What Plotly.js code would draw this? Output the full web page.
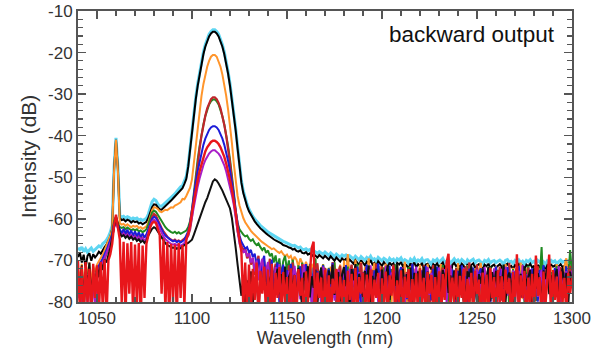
<!DOCTYPE html>
<html>
<head>
<meta charset="utf-8">
<script src="https://cdn.plot.ly/plotly-3.0.1.min.js"></script>
<style>html,body{margin:0;padding:0;background:#fff;}#plot{width:605px;height:356px;}</style>
</head>
<body>
<div id="plot"></div>
<script>
// Wavelength grid: 1040 .. 1300 nm, 1 nm step (261 samples)
const wlStart = 1040, wlEnd = 1300;
const wavelength = [];
for (let w = wlStart; w <= wlEnd; w++) wavelength.push(w);

const xTickVals = [1050, 1100, 1150, 1200, 1250, 1300];
const yTickVals = [-80, -70, -60, -50, -40, -30, -20, -10];
const yTickText = ["-80", "-70", "-60", "-50", "-40", "-30", "-20", "-10"];

const cyanSeries = [
-67.0,-67.4,-66.8,-67.9,-67.2,-68.1,-67.5,-67.0,-67.8,-67.3,
-66.9,-66.5,-66.8,-66.0,-65.6,-65.1,-64.3,-63.2,-61.6,-47.5,
-40.5,-47.5,-59.2,-59.6,-59.4,-59.8,-59.5,-59.7,-60.1,-59.8,
-60.0,-59.8,-60.3,-60.1,-60.4,-60.2,-59.9,-58.9,-57.3,-55.9,
-55.3,-55.6,-56.4,-56.9,-57.0,-56.6,-56.1,-55.8,-55.4,-55.0,
-54.5,-54.0,-53.4,-52.8,-52.3,-52.0,-51.0,-49.8,-47.0,-42.6,
-38.3,-34.3,-30.7,-27.5,-24.6,-22.1,-19.9,-18.1,-16.7,-15.6,
-14.9,-14.5,-14.5,-14.9,-15.6,-16.7,-18.1,-19.9,-22.1,-24.6,
-27.5,-30.7,-34.3,-38.3,-42.6,-47.3,-50.8,-53.3,-55.1,-56.5,
-57.7,-58.6,-59.4,-60.0,-60.6,-61.2,-61.6,-62.0,-62.5,-62.8,
-63.2,-63.5,-63.8,-64.1,-64.4,-64.6,-64.9,-65.1,-65.4,-65.6,
-65.8,-66.0,-66.2,-66.5,-66.4,-66.8,-67.0,-66.8,-67.3,-67.4,
-67.2,-67.6,-67.4,-68.0,-67.6,-68.0,-68.3,-67.9,-68.2,-68.5,
-68.0,-68.4,-68.8,-68.2,-68.6,-69.1,-68.5,-68.8,-69.2,-68.7,
-69.0,-68.7,-69.4,-68.9,-69.2,-69.7,-69.0,-69.4,-69.9,-69.1,
-69.5,-70.0,-69.3,-69.7,-69.0,-69.9,-69.6,-70.2,-69.3,-69.8,
-70.1,-69.5,-69.8,-70.4,-69.5,-70.0,-69.7,-70.5,-69.6,-69.9,
-69.4,-70.3,-69.8,-70.1,-70.7,-69.7,-70.2,-69.5,-70.4,-69.9,
-70.2,-69.6,-70.6,-69.9,-69.8,-70.3,-70.9,-69.9,-70.2,-69.7,
-70.4,-70.0,-69.5,-70.5,-70.1,-69.8,-70.7,-70.0,-69.6,-70.3,
-69.9,-70.5,-69.8,-70.2,-70.9,-69.9,-70.4,-70.0,-69.7,-70.6,
-70.1,-69.9,-70.4,-70.8,-70.0,-70.3,-69.8,-70.6,-70.2,-70.0,
-70.5,-70.1,-69.9,-70.3,-71.0,-70.0,-69.8,-70.4,-70.2,-70.7,
-70.0,-70.4,-69.9,-70.6,-70.2,-70.9,-70.0,-70.3,-69.8,-70.5,
-70.2,-70.8,-70.0,-70.4,-69.9,-70.3,-71.0,-70.1,-70.5,-70.0,
-70.4,-70.1,-70.8,-70.3,-69.9,-70.4,-70.2,-70.7,-70.1,-70.4,
-70.3];

const blackSeries = [
-69.2,-68.1,-70.5,-68.6,-71.8,-68.9,-68.3,-70.1,-68.5,-69.3,
-68.7,-67.9,-68.4,-67.4,-66.8,-66.2,-65.4,-64.3,-62.3,-48.0,
-41.0,-48.0,-59.8,-60.3,-60.1,-60.6,-60.2,-60.4,-60.9,-60.5,
-60.8,-60.6,-61.1,-60.9,-61.3,-61.0,-60.7,-59.8,-58.5,-57.2,
-56.5,-56.6,-57.2,-57.7,-57.8,-57.4,-56.9,-56.5,-56.1,-55.6,
-55.1,-54.6,-54.0,-53.4,-52.9,-52.6,-51.6,-50.4,-47.5,-43.1,
-38.8,-34.8,-31.2,-28.0,-25.1,-22.6,-20.4,-18.6,-17.2,-16.1,
-15.4,-15.0,-15.0,-15.4,-16.1,-17.2,-18.6,-20.4,-22.6,-25.1,
-28.0,-31.2,-34.8,-38.8,-43.1,-47.8,-51.3,-53.8,-55.6,-57.0,
-58.2,-59.1,-59.9,-60.6,-61.2,-61.8,-62.3,-62.7,-63.2,-63.5,
-63.9,-64.3,-64.5,-64.9,-65.2,-65.4,-65.8,-65.9,-66.3,-66.4,
-66.6,-66.9,-67.0,-67.4,-67.2,-67.7,-67.9,-67.6,-68.2,-68.3,
-68.0,-68.6,-68.3,-69.0,-68.5,-68.9,-69.3,-68.7,-69.1,-69.5,
-68.9,-69.4,-69.8,-69.0,-69.6,-70.1,-69.3,-69.8,-70.3,-69.5,
-70.0,-69.6,-70.5,-69.8,-70.2,-70.8,-69.9,-70.4,-71.1,-70.0,
-70.5,-71.2,-70.3,-70.8,-69.9,-71.0,-70.6,-71.4,-70.2,-70.9,
-71.3,-70.4,-70.9,-71.6,-70.5,-71.1,-70.7,-71.8,-70.6,-71.0,
-70.4,-71.5,-70.8,-71.2,-72.0,-70.7,-71.3,-70.5,-71.6,-70.9,
-71.4,-70.6,-71.9,-71.0,-70.8,-71.5,-72.2,-70.9,-71.3,-70.7,
-71.6,-71.0,-70.5,-71.8,-71.2,-70.8,-74.5,-71.1,-70.6,-71.4,
-71.0,-71.7,-70.8,-71.3,-72.3,-70.9,-71.5,-71.1,-70.7,-71.8,
-71.2,-70.9,-71.6,-72.1,-71.0,-71.4,-70.8,-71.9,-71.3,-71.0,
-71.7,-71.2,-70.9,-71.5,-75.0,-71.1,-70.8,-71.6,-71.3,-72.0,
-71.1,-71.5,-70.9,-71.8,-71.3,-72.2,-71.0,-71.4,-70.8,-71.7,
-71.3,-74.2,-71.1,-71.6,-70.9,-71.4,-72.3,-71.2,-71.7,-71.0,
-71.5,-71.2,-72.1,-71.4,-70.9,-71.6,-71.3,-72.0,-71.2,-71.6,
-71.4];

const orangeSeries = [
-72.5,-74.0,-70.8,-76.5,-71.9,-73.2,-70.5,-75.8,-71.4,-72.8,
-71.0,-70.2,-69.5,-68.6,-67.5,-66.4,-65.3,-64.0,-62.6,-48.5,
-41.0,-48.5,-61.0,-61.4,-61.2,-61.7,-61.3,-61.6,-62.0,-61.7,
-61.9,-61.7,-62.2,-62.0,-62.4,-62.1,-61.8,-60.8,-59.2,-57.9,
-57.2,-57.3,-57.6,-58.2,-58.4,-58.2,-57.8,-57.9,-57.5,-57.2,
-57.3,-56.8,-56.6,-56.2,-56.0,-55.2,-55.3,-54.5,-53.5,-52.5,
-50.5,-46.4,-41.7,-37.5,-33.7,-30.4,-27.6,-25.3,-23.4,-22.0,
-21.0,-20.6,-20.6,-21.0,-22.0,-23.4,-25.3,-27.6,-30.4,-33.7,
-37.5,-41.7,-46.7,-51.3,-54.5,-56.8,-58.5,-59.8,-60.8,-61.6,
-62.3,-62.9,-63.4,-63.9,-64.4,-64.8,-65.2,-65.6,-66.0,-66.3,
-66.6,-66.9,-67.3,-67.1,-67.6,-67.9,-68.2,-67.8,-68.5,-69.0,
-68.6,-69.4,-68.9,-70.2,-69.1,-69.8,-71.5,-69.5,-70.6,-72.0,
-70.3,-71.8,-74.5,-70.8,-73.0,-76.0,-71.2,-78.5,-72.4,-70.9,
-75.0,-72.0,-80.5,-71.5,-74.2,-70.6,-77.8,-73.1,-71.0,-82.0,
-70.0,-74.5,-68.5,-73.8,-71.2,-79.0,-69.8,-75.5,-72.2,-70.4,
-76.8,-71.6,-73.9,-69.5,-82.0,-72.8,-70.6,-77.5,-74.0,-71.3,
-79.5,-72.5,-70.8,-75.2,-73.3,-81.0,-71.7,-74.6,-70.9,-77.0,
-72.8,-75.9,-70.3,-80.0,-73.5,-71.4,-76.2,-72.0,-78.8,-74.1,
-71.0,-76.5,-73.2,-82.0,-70.8,-74.9,-72.3,-77.6,-71.5,-79.2,
-73.6,-70.9,-76.8,-72.1,-75.0,-81.0,-71.8,-74.3,-72.9,-77.5,
-70.7,-75.6,-73.0,-79.8,-72.4,-71.2,-76.9,-73.7,-82.0,-71.9,
-74.8,-72.5,-70.6,-77.3,-73.9,-80.5,-71.6,-75.4,-72.8,-78.1,
-71.3,-74.0,-76.6,-72.2,-81.0,-70.9,-75.1,-73.4,-77.9,-71.8,
-76.2,-72.7,-74.5,-70.5,-79.3,-73.0,-71.9,-76.4,-82.0,-72.6,
-74.1,-71.0,-77.8,-73.5,-70.8,-75.7,-80.2,-72.3,-74.8,-71.5,
-78.0,-73.1,-70.9,-76.0,-72.6,-81.0,-71.4,-69.5,-74.3,-72.0,
-75.5];

const greenSeries = [
-75.5,-78.0,-73.2,-82.0,-74.6,-76.9,-72.8,-80.5,-74.0,-77.2,
-73.5,-72.0,-71.2,-70.1,-69.0,-67.8,-66.5,-65.2,-63.5,-60.5,
-59.5,-61.0,-62.0,-62.2,-62.0,-62.5,-62.1,-62.4,-62.8,-62.5,
-62.7,-62.5,-63.0,-62.8,-63.2,-62.9,-62.5,-61.3,-59.6,-58.5,
-58.0,-58.3,-59.0,-59.8,-60.6,-61.3,-62.0,-62.5,-62.9,-63.2,
-63.4,-63.1,-63.5,-63.2,-63.6,-63.3,-63.0,-62.8,-62.0,-60.5,
-57.7,-53.3,-49.3,-45.7,-42.5,-39.7,-37.3,-35.3,-33.7,-32.5,
-31.7,-31.3,-31.3,-31.7,-32.5,-33.7,-35.3,-37.3,-39.7,-42.5,
-45.7,-49.3,-53.5,-58.0,-61.0,-62.5,-63.2,-63.8,-64.2,-64.0,
-64.8,-65.3,-64.9,-65.8,-66.3,-65.9,-66.8,-67.5,-66.9,-68.2,
-67.6,-69.0,-68.3,-70.5,-68.8,-72.0,-69.5,-74.0,-70.2,-68.9,
-72.5,-70.0,-76.0,-69.8,-73.5,-79.0,-71.2,-74.8,-70.5,-77.2,
-72.0,-80.5,-70.8,-75.5,-73.0,-69.5,-78.0,-72.5,-76.2,-71.0,
-74.5,-82.0,-71.8,-76.8,-73.6,-70.4,-79.5,-74.1,-72.3,-77.0,
-73.0,-76.4,-71.5,-81.0,-74.7,-72.0,-77.8,-70.8,-75.2,-73.8,
-80.0,-72.6,-75.9,-71.2,-74.4,-78.5,-72.9,-76.3,-70.9,-82.0,
-74.0,-71.7,-77.4,-73.2,-80.8,-72.1,-75.6,-71.0,-78.2,-73.5,
-76.9,-72.4,-81.0,-74.3,-71.6,-77.1,-73.8,-79.6,-72.2,-75.0,
-71.9,-78.4,-74.6,-72.0,-80.3,-73.3,-76.7,-71.4,-82.0,-74.2,
-72.7,-77.5,-71.1,-75.8,-73.0,-79.9,-72.5,-74.9,-81.0,-71.8,
-76.2,-73.4,-78.9,-72.0,-75.3,-71.3,-80.6,-74.1,-72.6,-77.7,
-73.1,-81.0,-71.9,-75.7,-72.8,-78.3,-74.4,-71.5,-79.2,-73.6,
-75.9,-72.3,-80.0,-73.9,-71.2,-77.0,-72.7,-82.0,-74.5,-72.1,
-78.6,-73.7,-71.8,-76.5,-72.9,-80.4,-74.0,-71.3,-77.3,-72.5,
-75.0,-79.8,-72.4,-74.6,-66.8,-78.1,-73.2,-71.9,-76.8,-72.8,
-80.2,-73.5,-71.4,-77.6,-72.0,-75.4,-79.0,-72.7,-74.9,-67.5,
-73.0];

const darkRedSeries = [
-76.0,-79.5,-73.8,-81.0,-75.2,-77.8,-73.5,-82.0,-74.9,-78.0,
-74.5,-73.0,-72.0,-71.0,-69.8,-68.5,-67.2,-65.8,-64.2,-61.5,
-60.0,-61.8,-63.2,-63.5,-63.3,-63.9,-63.4,-63.8,-64.2,-63.9,
-64.1,-63.8,-64.4,-64.2,-64.6,-64.3,-63.9,-62.8,-61.0,-59.5,
-58.8,-59.2,-60.2,-61.3,-62.2,-63.0,-63.8,-64.3,-64.7,-65.0,
-65.3,-65.0,-65.4,-65.2,-65.5,-65.1,-64.8,-64.5,-64.0,-62.5,
-59.5,-55.0,-50.6,-46.6,-43.1,-40.0,-37.4,-35.2,-33.4,-32.1,
-31.2,-30.8,-30.8,-31.2,-32.1,-33.4,-35.2,-37.4,-40.0,-43.1,
-46.6,-50.6,-55.0,-59.5,-63.0,-65.0,-66.5,-67.8,-66.9,-69.5,
-68.2,-71.0,-69.4,-73.5,-70.6,-68.9,-75.0,-71.8,-70.2,-77.5,
-72.4,-69.6,-80.0,-73.1,-70.8,-76.5,-72.0,-82.0,-71.5,-74.8,
-78.3,-71.2,-74.0,-70.5,-81.0,-73.6,-72.2,-77.0,-70.9,-75.8,
-73.0,-79.2,-71.6,-74.7,-82.0,-72.5,-70.7,-76.1,-73.4,-80.3,
-71.8,-75.5,-72.9,-78.8,-70.4,-74.2,-81.0,-73.0,-71.3,-77.4,
-74.6,-72.1,-80.7,-73.8,-71.0,-76.3,-72.7,-79.1,-74.0,-70.6,
-77.9,-73.2,-71.4,-82.0,-74.5,-72.3,-76.8,-70.8,-79.5,-73.6,
-71.5,-76.0,-73.3,-80.1,-72.2,-74.9,-71.0,-78.0,-73.7,-81.0,
-74.3,-71.6,-77.2,-72.8,-79.9,-73.5,-70.9,-75.6,-72.4,-80.6,
-73.0,-77.7,-71.2,-74.8,-72.5,-82.0,-73.9,-71.1,-76.4,-72.7,
-79.4,-73.4,-71.7,-76.9,-74.2,-70.7,-80.8,-72.9,-75.1,-71.9,
-77.8,-72.6,-74.7,-81.0,-71.4,-73.8,-70.5,-79.0,-72.3,-75.7,
-71.0,-78.6,-73.6,-72.1,-80.2,-74.4,-71.8,-76.5,-73.0,-82.0,
-72.9,-75.3,-71.5,-79.7,-73.7,-72.0,-77.5,-70.6,-81.0,-74.0,
-73.1,-71.9,-78.2,-74.6,-72.4,-76.0,-80.9,-71.7,-75.4,-73.3,
-79.1,-72.8,-71.4,-77.0,-73.9,-82.0,-72.1,-75.8,-71.0,-78.4,
-73.5,-76.7,-72.2,-80.5,-71.6,-74.3,-72.9,-78.7,-73.8,-71.3,
-76.0];

const blueSeries = [
-78.0,-74.5,-81.0,-76.2,-73.8,-79.5,-75.0,-77.8,-74.2,-80.0,
-72.0,-71.3,-70.4,-69.5,-68.6,-67.5,-66.3,-65.0,-63.8,-61.0,
-60.5,-61.5,-62.6,-63.5,-62.4,-63.6,-62.6,-63.8,-62.8,-64.0,
-63.0,-64.2,-63.2,-64.4,-63.5,-64.5,-63.8,-62.5,-61.0,-60.0,
-59.5,-59.8,-60.6,-61.6,-62.6,-63.4,-64.0,-64.5,-64.8,-65.1,
-65.4,-65.2,-65.6,-65.3,-65.7,-65.4,-65.0,-64.0,-63.0,-61.0,
-57.5,-54.2,-51.2,-48.5,-46.1,-44.0,-42.2,-40.7,-39.5,-38.6,
-38.0,-37.7,-37.7,-38.0,-38.6,-39.5,-40.7,-42.2,-44.0,-46.1,
-48.5,-51.2,-54.2,-58.0,-61.5,-64.0,-65.5,-66.4,-67.2,-66.8,
-68.0,-67.5,-69.2,-68.4,-71.0,-69.6,-73.5,-70.4,-68.9,-75.8,
-71.2,-74.0,-69.8,-78.5,-72.6,-70.5,-80.5,-73.4,-71.0,-76.7,
-72.3,-79.0,-70.8,-74.6,-72.0,-82.0,-73.7,-71.4,-77.5,-74.2,
-70.9,-76.8,-73.1,-80.2,-71.7,-75.0,-72.6,-78.4,-74.5,-71.2,
-81.0,-73.8,-72.0,-76.3,-70.6,-79.1,-74.0,-72.5,-77.9,-73.2,
-75.6,-71.1,-78.7,-73.6,-80.9,-72.2,-74.8,-71.5,-76.6,-82.0,
-72.8,-75.3,-71.0,-77.4,-73.1,-79.8,-72.4,-74.6,-70.7,-76.1,
-73.9,-80.4,-72.0,-75.9,-71.3,-77.8,-74.3,-72.6,-81.0,-73.0,
-71.6,-76.5,-73.7,-79.3,-72.1,-74.7,-70.8,-78.1,-73.3,-75.4,
-80.7,-72.4,-74.1,-71.3,-77.0,-73.6,-79.6,-72.0,-75.7,-71.5,
-74.9,-82.0,-72.7,-76.2,-71.8,-73.5,-78.5,-72.2,-74.4,-80.1,
-72.5,-75.0,-71.2,-77.6,-73.8,-80.0,-72.0,-74.9,-71.7,-76.4,
-79.7,-73.1,-71.9,-75.6,-72.6,-78.0,-74.2,-81.0,-72.9,-75.1,
-71.4,-77.3,-73.4,-72.1,-79.2,-74.8,-71.6,-76.0,-73.1,-80.8,
-72.7,-75.8,-71.3,-78.9,-74.1,-72.5,-77.1,-73.6,-82.0,-71.9,
-76.3,-73.0,-79.9,-72.3,-75.2,-71.1,-77.7,-74.7,-72.0,-80.3,
-73.7,-71.8,-76.9,-74.0,-79.1,-72.6,-75.5,-71.4,-78.2,-73.4,
-74.6];

const purpleSeries = [
-79.0,-75.5,-82.0,-77.0,-74.8,-80.5,-76.0,-78.6,-75.3,-81.0,
-73.0,-72.2,-71.3,-70.4,-69.4,-68.3,-67.1,-65.8,-64.5,-62.0,
-61.0,-62.5,-63.6,-64.0,-63.5,-64.2,-63.7,-64.3,-63.9,-64.6,
-64.2,-64.8,-64.4,-65.0,-64.6,-65.2,-64.7,-63.3,-61.8,-60.6,
-60.2,-60.5,-61.4,-62.5,-63.5,-64.3,-64.9,-65.4,-65.7,-66.0,
-66.2,-66.0,-66.4,-66.1,-66.5,-66.2,-65.8,-65.0,-64.0,-62.0,
-59.4,-56.7,-54.3,-52.2,-50.3,-48.6,-47.1,-45.9,-45.0,-44.3,
-43.8,-43.5,-43.5,-43.8,-44.3,-45.0,-45.9,-47.1,-48.6,-50.3,
-52.2,-54.3,-56.7,-59.5,-63.0,-66.0,-67.3,-68.0,-67.5,-69.0,
-68.4,-70.5,-69.3,-72.6,-70.0,-74.8,-71.3,-69.6,-77.0,-72.2,
-70.4,-75.6,-72.8,-80.0,-71.6,-74.1,-70.9,-78.3,-73.5,-71.8,
-76.4,-72.5,-81.0,-73.9,-71.3,-75.8,-72.9,-79.4,-74.3,-71.0,
-77.6,-73.3,-71.8,-80.6,-74.7,-72.1,-76.2,-73.0,-82.0,-71.5,
-74.2,-78.2,-72.6,-75.4,-71.0,-79.7,-73.7,-72.2,-76.9,-74.6,
-71.8,-80.1,-73.4,-72.0,-77.3,-74.9,-71.4,-78.6,-72.8,-75.5,
-81.0,-72.3,-76.1,-73.8,-71.2,-78.0,-74.4,-72.7,-80.4,-73.1,
-72.6,-77.5,-71.3,-74.8,-79.0,-72.9,-76.6,-73.5,-71.8,-78.8,
-75.3,-71.9,-80.5,-73.2,-76.0,-72.4,-82.0,-74.0,-71.5,-77.2,
-73.6,-79.8,-72.2,-75.8,-71.6,-78.3,-73.0,-76.4,-72.5,-81.0,
-71.7,-76.7,-74.5,-72.1,-80.2,-73.8,-71.2,-77.9,-74.0,-72.8,
-79.1,-72.7,-75.7,-71.8,-78.6,-73.4,-76.8,-72.2,-81.0,-74.3,
-72.2,-77.8,-73.1,-80.7,-71.6,-75.3,-72.8,-79.0,-74.6,-71.9,
-76.5,-73.2,-81.0,-72.0,-75.9,-71.5,-78.5,-73.7,-76.3,-72.4,
-80.0,-74.1,-72.5,-77.4,-71.1,-79.6,-73.3,-75.7,-72.1,-78.0,
-73.5,-71.6,-78.8,-74.4,-72.3,-81.0,-73.9,-76.1,-71.7,-79.3,
-72.9,-77.1,-74.2,-71.4,-80.6,-73.1,-75.9,-72.6,-78.4,-74.0,
-72.5];

const lowBlackSeries = [
-73.5,-77.0,-71.2,-80.0,-72.8,-75.6,-70.5,-79.0,-73.1,-76.2,
-71.5,-74.0,-70.6,-72.3,-69.8,-70.5,-68.7,-67.0,-64.5,-61.5,
-59.5,-61.5,-63.5,-64.2,-63.9,-64.6,-64.1,-64.8,-64.3,-65.0,
-64.6,-65.3,-64.9,-65.6,-65.2,-65.8,-65.3,-64.0,-63.0,-62.4,
-62.0,-62.3,-63.0,-63.8,-64.6,-65.3,-65.9,-66.3,-66.6,-66.8,
-67.0,-66.8,-67.2,-66.9,-67.1,-66.6,-66.2,-66.0,-65.8,-65.5,
-65.0,-63.8,-62.5,-61.0,-59.5,-58.2,-57.0,-56.0,-55.0,-53.5,
-52.0,-51.0,-50.5,-50.8,-51.5,-52.3,-53.2,-54.3,-55.5,-56.5,
-57.5,-59.8,-63.0,-67.0,-71.0,-75.0,-78.5,-73.5,-81.0,-74.8,
-77.0,-72.6,-80.5,-75.1,-73.0,-82.0,-74.4,-76.8,-71.9,-79.6,
-73.7,-75.9,-72.3,-81.0,-74.6,-72.0,-78.2,-73.3,-76.4,-71.5,
-80.3,-74.0,-72.7,-77.1,-73.5,-79.7,-71.8,-75.4,-82.0,-72.9,
-75.0,-71.4,-78.9,-73.8,-76.6,-72.2,-80.8,-74.2,-71.7,-77.5,
-73.1,-81.0,-72.4,-75.7,-71.0,-78.3,-74.5,-72.8,-79.9,-73.4,
-71.6,-76.2,-73.9,-80.4,-72.1,-74.8,-70.9,-78.7,-73.2,-75.9,
-79.2,-72.5,-75.1,-71.3,-82.0,-73.7,-76.7,-72.0,-74.3,-80.6,
-72.2,-77.4,-73.6,-71.1,-79.5,-74.7,-72.9,-76.1,-70.8,-81.0,
-74.9,-72.0,-78.0,-73.3,-75.5,-71.7,-80.2,-73.0,-76.8,-72.6,
-77.9,-74.1,-71.5,-79.3,-72.7,-75.2,-73.9,-81.0,-71.2,-76.3,
-73.0,-80.1,-72.3,-74.6,-71.9,-77.8,-73.6,-75.8,-72.4,-79.4,
-75.4,-71.8,-76.9,-73.1,-80.9,-72.6,-74.0,-71.3,-78.4,-73.7,
-81.0,-73.3,-75.6,-72.1,-77.2,-74.4,-71.6,-79.8,-72.8,-76.0,
-72.5,-78.7,-73.8,-76.4,-71.0,-80.3,-74.2,-72.9,-75.3,-81.0,
-74.6,-72.0,-77.6,-73.2,-79.0,-71.4,-76.2,-73.9,-72.3,-80.0,
-71.9,-76.8,-73.1,-75.0,-80.7,-72.4,-74.5,-71.6,-78.1,-73.6,
-77.3,-73.7,-72.1,-79.5,-74.8,-71.8,-76.4,-73.0,-81.0,-72.7,
-75.2];

const redSeries = [
-70.0,-82.0,-71.5,-85.0,-70.4,-80.0,-72.0,-84.0,-70.8,-79.0,
-71.2,-83.0,-70.3,-81.0,-69.8,-84.0,-70.0,-68.5,-66.0,-61.5,
-59.0,-62.0,-65.0,-80.0,-65.5,-84.0,-65.9,-78.0,-65.6,-83.0,
-66.2,-81.0,-65.8,-85.0,-66.4,-79.0,-66.0,-64.0,-62.0,-61.0,
-60.7,-61.0,-62.5,-63.8,-78.0,-64.8,-82.0,-65.6,-85.0,-66.0,
-80.0,-66.2,-84.0,-65.8,-79.0,-66.3,-81.0,-65.0,-63.5,-61.5,
-58.4,-55.5,-52.9,-50.6,-48.5,-46.7,-45.1,-43.8,-42.8,-42.0,
-41.5,-41.2,-41.2,-41.5,-42.0,-42.8,-43.8,-45.1,-46.7,-48.5,
-50.6,-52.9,-55.5,-58.5,-62.0,-65.0,-68.0,-81.0,-70.5,-84.0,
-71.0,-83.0,-72.0,-79.5,-70.5,-85.0,-72.5,-78.0,-71.5,-84.0,
-72.2,-82.0,-70.8,-86.0,-73.0,-79.0,-71.6,-84.0,-72.8,-80.0,
-74.0,-85.0,-71.9,-81.0,-73.5,-83.0,-72.1,-78.5,-74.2,-86.0,
-72.6,-80.0,-73.8,-67.0,-65.5,-84.0,-72.9,-79.0,-74.1,-85.0,
-72.3,-81.0,-73.6,-86.0,-74.4,-78.0,-72.0,-83.0,-73.9,-80.0,
-74.7,-84.0,-72.5,-79.5,-73.2,-86.0,-71.8,-82.0,-74.0,-78.0,
-72.9,-85.0,-73.4,-80.0,-72.2,-83.0,-74.6,-79.0,-73.0,-86.0,
-74.3,-81.0,-72.7,-84.0,-73.6,-78.5,-71.5,-85.0,-74.8,-80.0,
-72.4,-83.0,-73.9,-79.0,-72.1,-86.0,-74.5,-80.5,-73.1,-84.0,
-71.9,-80.0,-74.2,-85.0,-72.8,-78.0,-73.5,-83.0,-74.0,-81.0,
-72.6,-86.0,-73.3,-79.5,-70.5,-68.4,-82.0,-74.1,-80.0,-72.3,
-84.0,-73.7,-79.0,-72.0,-85.0,-74.4,-80.5,-73.0,-83.0,-72.5,
-78.5,-74.6,-86.0,-72.9,-81.0,-73.4,-84.0,-71.8,-79.0,-74.0,
-85.0,-72.4,-80.0,-73.8,-83.0,-72.2,-78.0,-74.3,-86.0,-72.8,
-81.0,-68.5,-84.0,-73.6,-79.0,-72.5,-85.0,-74.1,-80.5,-73.2,
-83.0,-68.8,-78.5,-74.0,-86.0,-72.7,-81.0,-73.5,-68.6,-84.0,
-72.3,-79.5,-73.9,-85.0,-72.6,-80.0,-74.2,-83.0,-73.0,-78.0,
-74.0];

const seriesList = [
  {name: "cyan", y: cyanSeries, color: "#5fd6f2", width: 3},
  {name: "black", y: blackSeries, color: "#000000", width: 2},
  {name: "orange", y: orangeSeries, color: "#ff952b", width: 2},
  {name: "green", y: greenSeries, color: "#1f8a22", width: 2},
  {name: "dark red", y: darkRedSeries, color: "#c0262c", width: 2.2},
  {name: "blue", y: blueSeries, color: "#1c1cd8", width: 2},
  {name: "purple", y: purpleSeries, color: "#a81ec8", width: 2},
  {name: "black 2", y: lowBlackSeries, color: "#111111", width: 2},
  {name: "red", y: redSeries, color: "#e8161b", width: 2.4}
];

seriesList.forEach(s => {
  if (s.y.length !== wavelength.length) throw new Error(s.name + " length " + s.y.length);
});

const traces = seriesList.map(s => ({
  type: "scatter", mode: "lines", name: s.name,
  x: wavelength, y: s.y,
  line: {color: s.color, width: s.width},
  hoverinfo: "skip"
}));

const fontFam = "Liberation Sans, Arial, Helvetica, sans-serif";

const layout = {
  width: 605, height: 356,
  margin: {l: 78, r: 33, t: 11, b: 54},
  paper_bgcolor: "#ffffff", plot_bgcolor: "#ffffff",
  showlegend: false,
  font: {family: fontFam, color: "#222"},
  xaxis: {
    range: [1040, 1300], tickvals: xTickVals,
    ticks: "inside", ticklen: 8, tickwidth: 1.5, tickcolor: "#555",
    minor: {dtick: 10, tick0: 1040, ticks: "inside", ticklen: 5, tickwidth: 1.2, tickcolor: "#555"},
    showline: true, linewidth: 2, linecolor: "#555", mirror: "ticks",
    showgrid: false, zeroline: false,
    tickfont: {family: fontFam, size: 17, color: "#333"},
    title: {text: "Wavelength (nm)", font: {family: fontFam, size: 18, color: "#333"}, standoff: 2}
  },
  yaxis: {
    range: [-80, -10], tickvals: yTickVals, ticktext: yTickText,
    ticks: "inside", ticklen: 8, tickwidth: 1.5, tickcolor: "#555",
    minor: {dtick: 2, tick0: -80, ticks: "inside", ticklen: 5, tickwidth: 1.2, tickcolor: "#555"},
    showline: true, linewidth: 2, linecolor: "#555", mirror: "ticks",
    showgrid: false, zeroline: false,
    tickfont: {family: fontFam, size: 17, color: "#333"},
    title: {text: "Intensity (dB)", font: {family: fontFam, size: 21, color: "#333"}, standoff: 6}
  },
  annotations: [{
    text: "backward output", xref: "paper", yref: "paper",
    x: 0.97, y: 0.918, xanchor: "right", yanchor: "middle",
    showarrow: false, font: {family: fontFam, size: 22.5, color: "#111"}
  }]
};

Plotly.newPlot("plot", traces, layout, {staticPlot: true, displayModeBar: false});
</script>
</body>
</html>
